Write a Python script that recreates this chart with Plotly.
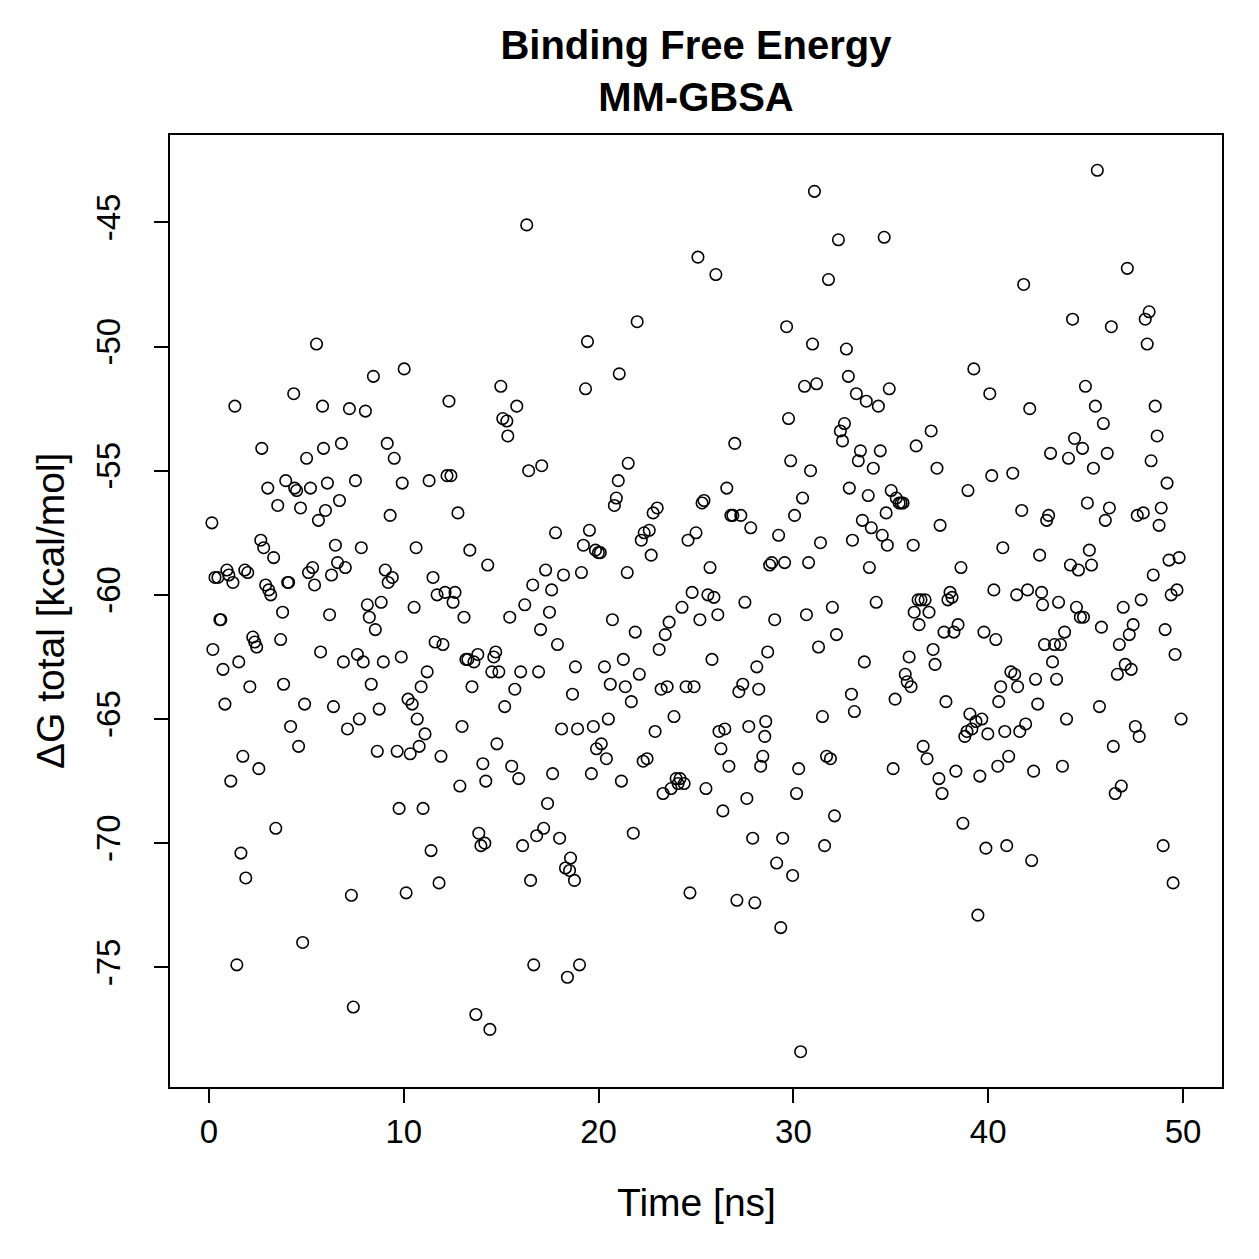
import plotly.graph_objects as go

time_ns = [
0.15,0.20,0.31,0.46,0.56,0.61,0.72,0.82,0.92,1.02,1.12,1.23,1.33,1.43,1.53,1.64,1.74,1.84,1.89,1.99,
2.10,2.25,2.35,2.45,2.56,2.66,2.71,2.81,2.91,3.02,3.07,3.17,3.32,3.43,3.53,3.68,3.78,3.83,3.94,4.04,
4.09,4.19,4.35,4.40,4.50,4.60,4.70,4.81,4.91,5.01,5.11,5.21,5.32,5.42,5.52,5.62,5.73,5.83,5.88,5.98,
6.08,6.19,6.29,6.39,6.49,6.60,6.70,6.80,6.90,7.00,7.11,7.21,7.31,7.41,7.52,7.62,7.72,7.82,7.92,8.03,
8.13,8.23,8.33,8.44,8.54,8.64,8.74,8.84,8.95,9.05,9.15,9.20,9.30,9.41,9.51,9.66,9.76,9.87,9.92,10.02,
10.12,10.22,10.33,10.43,10.53,10.63,10.69,10.79,10.89,10.99,11.09,11.20,11.30,11.40,11.50,11.61,11.71,11.81,11.91,12.01,
12.12,12.22,12.32,12.42,12.53,12.63,12.78,12.88,12.99,13.09,13.19,13.29,13.39,13.50,13.60,13.70,13.80,13.85,13.96,14.06,
14.16,14.21,14.31,14.42,14.52,14.62,14.72,14.78,14.88,14.98,15.08,15.18,15.29,15.34,15.44,15.54,15.70,15.80,15.90,16.00,
16.10,16.21,16.31,16.41,16.51,16.62,16.67,16.82,16.92,17.02,17.08,17.18,17.28,17.38,17.48,17.59,17.64,17.79,17.89,18.00,
18.10,18.20,18.30,18.40,18.51,18.56,18.66,18.76,18.81,18.92,19.02,19.12,19.22,19.33,19.43,19.53,19.63,19.73,19.84,19.89,
19.99,20.09,20.14,20.30,20.40,20.50,20.60,20.71,20.81,20.91,21.01,21.06,21.17,21.27,21.37,21.47,21.52,21.68,21.78,21.88,
21.98,22.09,22.19,22.29,22.34,22.49,22.60,22.70,22.80,22.90,23.01,23.11,23.21,23.31,23.42,23.52,23.62,23.72,23.87,23.98,
24.08,24.18,24.28,24.39,24.49,24.59,24.69,24.80,24.90,25.00,25.10,25.20,25.31,25.41,25.51,25.61,25.72,25.82,25.92,26.02,
26.12,26.18,26.28,26.38,26.48,26.58,26.69,26.79,26.89,26.99,27.10,27.20,27.30,27.40,27.51,27.61,27.71,27.81,27.91,28.02,
28.12,28.22,28.32,28.43,28.53,28.58,28.68,28.78,28.89,29.04,29.14,29.24,29.35,29.45,29.55,29.65,29.75,29.86,29.96,30.06,
30.16,30.27,30.37,30.47,30.57,30.67,30.78,30.88,30.98,31.08,31.19,31.29,31.39,31.49,31.60,31.70,31.80,31.90,32.00,32.11,
32.21,32.31,32.41,32.52,32.62,32.72,32.82,32.87,32.98,33.03,33.13,33.23,33.33,33.44,33.54,33.64,33.74,33.84,33.90,34.00,
34.10,34.25,34.36,34.46,34.56,34.66,34.76,34.82,34.92,35.02,35.12,35.22,35.28,35.43,35.53,35.63,35.74,35.84,35.94,36.04,
36.15,36.20,36.30,36.40,36.45,36.55,36.66,36.76,36.86,36.96,37.07,37.17,37.27,37.37,37.47,37.53,37.63,37.73,37.83,37.93,
38.04,38.14,38.24,38.34,38.45,38.60,38.70,38.80,38.91,38.96,39.06,39.16,39.26,39.37,39.47,39.57,39.67,39.78,39.88,39.98,
40.08,40.18,40.29,40.39,40.49,40.54,40.64,40.75,40.85,40.95,41.05,41.16,41.26,41.36,41.46,41.51,41.62,41.72,41.82,41.92,
42.02,42.13,42.23,42.33,42.43,42.54,42.64,42.74,42.79,42.89,43.00,43.10,43.20,43.30,43.40,43.51,43.61,43.71,43.81,43.92,
44.02,44.12,44.22,44.33,44.43,44.53,44.63,44.73,44.84,44.89,44.99,45.09,45.19,45.30,45.40,45.50,45.60,45.71,45.81,45.91,
46.01,46.11,46.22,46.32,46.42,46.52,46.63,46.73,46.83,46.93,47.03,47.14,47.24,47.34,47.44,47.55,47.65,47.75,47.85,47.96,
48.06,48.16,48.26,48.36,48.47,48.57,48.67,48.77,48.88,48.98,49.08,49.18,49.28,49.39,49.49,49.59,49.69,49.80,49.90,
]

dg_total = [
-57.1,-62.2,-59.3,-59.3,-61.0,-61.0,-63.0,-64.4,-59.0,-59.2,-67.5,-59.5,-52.4,-74.9,-62.7,-70.4,-66.5,-59.0,-71.4,-59.1,
-63.7,-61.7,-61.9,-62.1,-67.0,-57.8,-54.1,-58.1,-59.6,-55.7,-59.8,-60.0,-58.5,-69.4,-56.4,-61.8,-60.7,-63.6,-55.4,-59.5,
-59.5,-65.3,-51.9,-55.7,-55.8,-66.1,-56.5,-74.0,-64.4,-54.5,-59.1,-55.7,-58.9,-59.6,-49.9,-57.0,-62.3,-52.4,-54.1,-56.6,
-55.5,-60.8,-59.2,-64.5,-58.0,-58.7,-56.2,-53.9,-62.7,-58.9,-65.4,-52.5,-72.1,-76.6,-55.4,-62.4,-65.0,-58.1,-62.7,-52.6,
-60.4,-60.9,-63.6,-51.2,-61.4,-66.3,-64.6,-60.3,-62.7,-59.0,-53.9,-59.5,-56.8,-59.3,-54.5,-66.3,-68.6,-62.5,-55.5,-50.9,
-72.0,-64.2,-66.4,-64.4,-60.5,-58.1,-65.0,-66.1,-63.7,-68.6,-65.6,-63.1,-55.4,-70.3,-59.3,-61.9,-60.0,-71.6,-66.5,-62.0,
-59.9,-55.2,-52.2,-55.2,-60.3,-59.9,-56.7,-67.7,-65.3,-60.9,-62.6,-62.6,-58.2,-63.7,-62.7,-76.9,-62.4,-69.6,-70.1,-66.8,
-70.0,-67.5,-58.8,-77.5,-63.1,-62.5,-62.3,-66.0,-63.1,-51.6,-52.9,-64.5,-53.0,-53.6,-60.9,-66.9,-63.8,-52.4,-67.4,-63.1,
-70.1,-60.4,-45.1,-55.0,-71.5,-59.6,-74.9,-69.7,-63.1,-61.4,-54.8,-69.4,-59.0,-68.4,-60.7,-59.8,-67.2,-57.5,-62.0,-69.8,
-65.4,-59.2,-71.0,-75.4,-71.1,-70.6,-64.0,-71.5,-62.9,-65.4,-74.9,-59.1,-58.0,-51.7,-49.8,-57.4,-67.2,-65.3,-58.2,-66.2,
-58.3,-58.3,-66.0,-62.9,-66.6,-65.0,-63.6,-61.0,-56.4,-56.1,-55.4,-51.1,-67.5,-62.6,-63.7,-59.1,-54.7,-64.3,-69.6,-61.5,
-49.0,-63.2,-57.8,-66.7,-57.5,-66.6,-57.4,-58.4,-56.7,-65.5,-56.5,-62.2,-63.8,-68.0,-61.6,-63.7,-61.1,-67.8,-64.9,-67.4,
-67.6,-67.4,-60.5,-67.6,-63.7,-57.8,-72.0,-59.9,-63.7,-57.5,-46.4,-61.0,-56.3,-56.2,-67.8,-60.0,-58.9,-62.6,-60.1,-47.1,
-60.8,-65.5,-66.2,-68.7,-65.4,-55.7,-66.9,-56.8,-56.8,-53.9,-72.3,-63.9,-56.8,-63.6,-60.3,-68.2,-65.3,-57.3,-69.8,-72.4,
-62.9,-63.8,-66.9,-66.5,-65.7,-65.1,-62.3,-58.8,-58.7,-61.0,-70.8,-57.6,-73.4,-69.8,-58.7,-49.2,-52.9,-54.6,-71.3,-56.8,
-68.0,-67.0,-78.4,-56.1,-51.6,-60.8,-58.7,-55.0,-49.9,-43.75,-51.5,-62.1,-57.9,-64.9,-70.1,-66.5,-47.3,-66.6,-60.5,-68.9,
-61.6,-45.7,-53.4,-53.8,-53.1,-50.1,-51.2,-55.7,-64.0,-57.8,-64.7,-51.9,-54.6,-54.2,-57.0,-62.7,-52.2,-56.0,-58.9,-57.3,
-54.9,-60.3,-52.4,-54.2,-57.6,-45.6,-56.7,-58.0,-51.7,-55.8,-67.0,-64.2,-56.1,-56.3,-56.3,-56.3,-63.2,-63.5,-62.5,-63.7,
-58.0,-60.7,-54.0,-60.2,-61.2,-60.2,-66.1,-60.2,-66.6,-60.7,-53.4,-62.2,-62.8,-54.9,-67.4,-57.2,-68.0,-61.5,-64.3,-60.2,
-59.9,-60.1,-61.5,-67.1,-61.2,-58.9,-69.2,-65.7,-65.5,-55.8,-64.8,-65.4,-50.9,-65.1,-72.9,-67.3,-65.0,-61.5,-70.2,-65.6,
-51.9,-55.2,-59.8,-61.8,-66.9,-64.3,-63.7,-58.1,-65.5,-70.1,-66.5,-63.1,-55.1,-63.2,-60.0,-63.7,-65.5,-56.6,-47.5,-65.2,
-59.8,-52.5,-70.7,-67.1,-63.4,-64.4,-58.4,-59.9,-60.4,-62.0,-57.0,-56.8,-54.3,-62.7,-62.0,-63.4,-60.3,-62.0,-66.9,-61.5,
-65.0,-54.5,-58.8,-48.9,-53.7,-60.5,-59.0,-60.9,-54.1,-60.9,-51.6,-56.3,-58.2,-58.8,-54.9,-52.4,-42.9,-64.5,-61.3,-53.1,
-57.0,-54.3,-56.5,-49.2,-66.1,-68.0,-63.2,-62.0,-67.7,-60.5,-62.8,-46.85,-61.6,-63.0,-61.2,-65.3,-56.8,-65.7,-60.2,-56.7,
-48.9,-49.9,-48.6,-54.6,-59.2,-52.4,-53.6,-57.2,-56.5,-70.1,-61.4,-55.5,-58.6,-60.0,-71.6,-62.4,-59.8,-58.5,-65.0,
]

x_ticks = [0, 10, 20, 30, 40, 50]
y_ticks = [-75, -70, -65, -60, -55, -50, -45]
title_text = "<b>Binding Free Energy<br>MM-GBSA</b>"
x_title = "Time [ns]"
y_title = "ΔG total [kcal/mol]"

FONT = "Liberation Sans, Arial, Helvetica, sans-serif"

fig = go.Figure()
fig.add_trace(go.Scatter(
    x=time_ns, y=dg_total, mode="markers",
    marker=dict(symbol="circle-open", size=11.5, color="black", line=dict(width=1.6, color="black")),
    showlegend=False, hoverinfo="x+y",
))

fig.update_layout(
    width=1259, height=1259,
    margin=dict(l=170, r=37, t=135, b=172),
    paper_bgcolor="white", plot_bgcolor="white",
    font=dict(family=FONT, color="black", size=34),
    title=dict(text=title_text, x=0.5528, xanchor="center", y=0.953, yanchor="middle",
               font=dict(family=FONT, size=40, color="black")),
)

fig.update_xaxes(
    range=[-2, 52], tickvals=x_ticks, ticktext=[str(v) for v in x_ticks],
    showgrid=False, zeroline=False,
    showline=True, linecolor="black", linewidth=2, mirror=True,
    ticks="outside", ticklen=14, tickwidth=2, tickcolor="black",
    tickfont=dict(size=33, family=FONT), ticklabelstandoff=0,
)
fig.update_yaxes(
    range=[-79.82, -41.48], tickvals=y_ticks, ticktext=[str(v) for v in y_ticks],
    showgrid=False, zeroline=False,
    showline=True, linecolor="black", linewidth=2, mirror=True,
    ticks="outside", ticklen=14, tickwidth=2, tickcolor="black",
    tickfont=dict(size=33, family=FONT), tickangle=-90, ticklabelstandoff=21,
)

fig.add_annotation(text=x_title, xref="paper", yref="paper", x=0.5, y=-0.1218,
                   xanchor="center", yanchor="middle", showarrow=False,
                   font=dict(size=39, family=FONT, color="black"))
fig.add_annotation(text=y_title, xref="paper", yref="paper", x=-0.114, y=0.5,
                   xanchor="center", yanchor="middle", textangle=-90, showarrow=False,
                   font=dict(size=39, family=FONT, color="black"))

fig.write_html("out.html")
